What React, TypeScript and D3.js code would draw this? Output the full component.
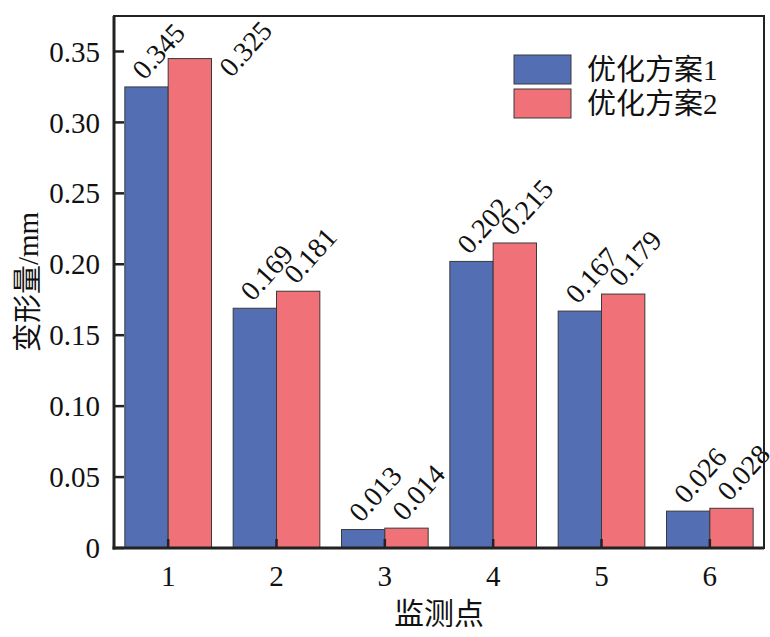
import React from "react";
import * as d3 from "d3";

// monitoring points and deformation values (mm)
const points = ["1", "2", "3", "4", "5", "6"];
const plan1 = [0.325, 0.169, 0.013, 0.202, 0.167, 0.026];
const plan2 = [0.345, 0.181, 0.014, 0.215, 0.179, 0.028];
// value labels as printed in the figure
const labels1 = ["0.345", "0.169", "0.013", "0.202", "0.167", "0.026"];
const labels2 = ["0.325", "0.181", "0.014", "0.215", "0.179", "0.028"];
const seriesNames = ["优化方案1", "优化方案2"];
const yTicks = [0, 0.05, 0.1, 0.15, 0.2, 0.25, 0.3, 0.35];

const colors = ["#546eb4", "#f07177"];
const serif = "Liberation Serif, DejaVu Serif, Noto Sans CJK SC, serif";

export default function App() {
  const width = 770;
  const height = 637;
  const m = { left: 114, right: 6, top: 16, bottom: 89 };
  const x0 = m.left;
  const x1 = width - m.right;
  const yTop = m.top;
  const yBot = height - m.bottom;

  const x = d3.scaleBand<string>().domain(points).range([x0, x1]).paddingInner(0.2).paddingOuter(0.1);
  const xs = d3.scaleBand<number>().domain([0, 1]).range([0, x.bandwidth()]);
  const y = d3.scaleLinear().domain([0, 0.375]).range([yBot, yTop]);

  const series = [plan1, plan2];
  const labels = [labels1, labels2];
  const fmt = (v: number) => (v === 0 ? "0" : d3.format(".2f")(v));
  const txt = { fontFamily: serif, fill: "#111" };

  return (
    <svg width={width} height={height} style={{ position: "absolute", left: 0, top: 0, background: "#fff" }}>
      {series.map((vals, si) =>
        vals.map((v, i) => {
          const bx = (x(points[i]) ?? 0) + (xs(si) ?? 0);
          return (
            <rect
              key={`b${si}-${i}`}
              x={bx}
              y={y(v)}
              width={xs.bandwidth()}
              height={yBot - y(v)}
              fill={colors[si]}
              stroke="#3a3a3a"
              strokeWidth={1}
            />
          );
        })
      )}

      {series.map((vals, si) =>
        vals.map((v, i) => {
          const bx = (x(points[i]) ?? 0) + (xs(si) ?? 0);
          let lx = bx + xs.bandwidth() / 2 - 2;
          let ly = y(v) - 6;
          // labels that would run past the frame sit beside the bar
          if (ly - 60 < yTop) {
            lx = bx + xs.bandwidth() + 20;
            ly = y(v) + 20;
          }
          return (
            <text
              key={`l${si}-${i}`}
              transform={`translate(${lx},${ly}) rotate(-48)`}
              style={{ ...txt, fontSize: 28 }}
            >
              {labels[si][i]}
            </text>
          );
        })
      )}

      {/* frame */}
      <rect x={x0} y={yTop} width={x1 - x0} height={yBot - yTop} fill="none" stroke="#222" strokeWidth={2} />
      <line x1={x0} x2={x0} y1={yTop} y2={yBot + 1.5} stroke="#222" strokeWidth={3} />
      <line x1={x0 - 1.5} x2={x1} y1={yBot} y2={yBot} stroke="#222" strokeWidth={3} />

      {/* y ticks */}
      {yTicks.map((t) => (
        <g key={`yt${t}`}>
          <line x1={x0} x2={x0 + 10} y1={y(t)} y2={y(t)} stroke="#222" strokeWidth={2.5} />
          <text x={x0 - 14} y={y(t)} dy="0.35em" textAnchor="end" style={{ ...txt, fontSize: 29 }}>
            {fmt(t)}
          </text>
        </g>
      ))}

      {/* x ticks */}
      {points.map((p) => {
        const cx = (x(p) ?? 0) + x.bandwidth() / 2;
        return (
          <g key={`xt${p}`}>
            <line x1={cx} x2={cx} y1={yBot} y2={yBot - 9} stroke="#222" strokeWidth={2.5} />
            <text x={cx} y={yBot + 38} textAnchor="middle" style={{ ...txt, fontSize: 29 }}>
              {p}
            </text>
          </g>
        );
      })}

      {/* axis titles */}
      <text x={(x0 + x1) / 2} y={yBot + 76} textAnchor="middle" style={{ ...txt, fontSize: 30 }}>
        监测点
      </text>
      <text
        transform={`translate(38,${(yTop + yBot) / 2}) rotate(-90)`}
        textAnchor="middle"
        style={{ ...txt, fontSize: 29 }}
      >
        变形量/mm
      </text>

      {/* legend */}
      {seriesNames.map((name, si) => (
        <g key={`lg${si}`} transform={`translate(514,${55 + si * 34})`}>
          <rect width={57} height={29} fill={colors[si]} stroke="#3a3a3a" strokeWidth={1} />
          <text x={73} y={14.5} dy="0.35em" style={{ ...txt, fontSize: 29 }}>
            {name}
          </text>
        </g>
      ))}
    </svg>
  );
}
